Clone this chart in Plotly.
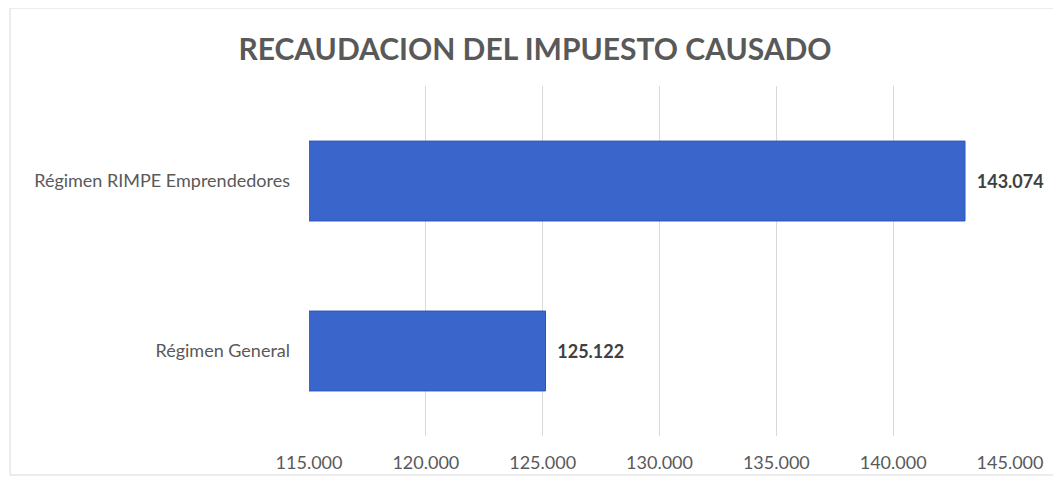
import plotly.graph_objects as go

categories = ["Régimen General", "Régimen RIMPE Emprendedores"]
values = [125122, 143074]
tick_vals = [115000, 120000, 125000, 130000, 135000, 140000, 145000]
title_text = "RECAUDACION DEL IMPUESTO CAUSADO"

# page body has an 8px margin, so figure coords = screen coords - 8
OFF = 8
W, H = 1061, 477
L = 309 - OFF
R = W - (1010 - OFF)
T = 86 - OFF
B = H - (436 - OFF)
pw, ph = W - L - R, H - T - B

def px_x(x):
    return (x - OFF - L) / pw

def px_y(y):
    return (H - B - (y - OFF)) / ph

FONT = "Lato, Open Sans, sans-serif"

fig = go.Figure()
fig.add_trace(go.Bar(
    y=categories,
    x=values,
    base=0,
    orientation="h",
    marker=dict(color="#3A66CC", line=dict(color="#2C54B8", width=1)),
    text=values,
    texttemplate="  %{x:,.0f}",
    textposition="outside",
    textfont=dict(family=FONT, size=18, color="#404040", weight="bold"),
    cliponaxis=False,
    width=0.47,
))

fig.update_layout(
    width=W, height=H,
    margin=dict(l=L, r=R, t=T, b=B, pad=0),
    paper_bgcolor="white",
    plot_bgcolor="white",
    separators=",.",
    showlegend=False,
    title=dict(
        text=title_text,
        x=(535 - OFF) / W, xref="container", xanchor="center",
        y=(H - (49 - OFF)) / H, yref="container", yanchor="middle",
        font=dict(family=FONT, size=30, color="#595959", weight="bold"),
    ),
    xaxis=dict(
        range=[115000, 145000],
        tickvals=tick_vals,
        tickformat=",.0f",
        showgrid=True, gridcolor="#D9D9D9", gridwidth=1,
        zeroline=False, showline=False,
        ticks="",
        tickfont=dict(family=FONT, size=18, color="#595959"),
        ticklabelstandoff=14,
    ),
    yaxis=dict(
        range=[-0.5, 1.559],
        showgrid=False, zeroline=False, showline=False,
        ticks="",
        tickfont=dict(family=FONT, size=18, color="#595959"),
        ticklabelstandoff=18,
    ),
    font=dict(family=FONT),
)

fig.add_shape(
    type="rect", xref="paper", yref="paper",
    x0=px_x(10), x1=px_x(1075), y0=px_y(475), y1=px_y(8),
    line=dict(color="#D9D9D9", width=1), fillcolor="rgba(0,0,0,0)", layer="below",
)

fig.write_html("out.html")
